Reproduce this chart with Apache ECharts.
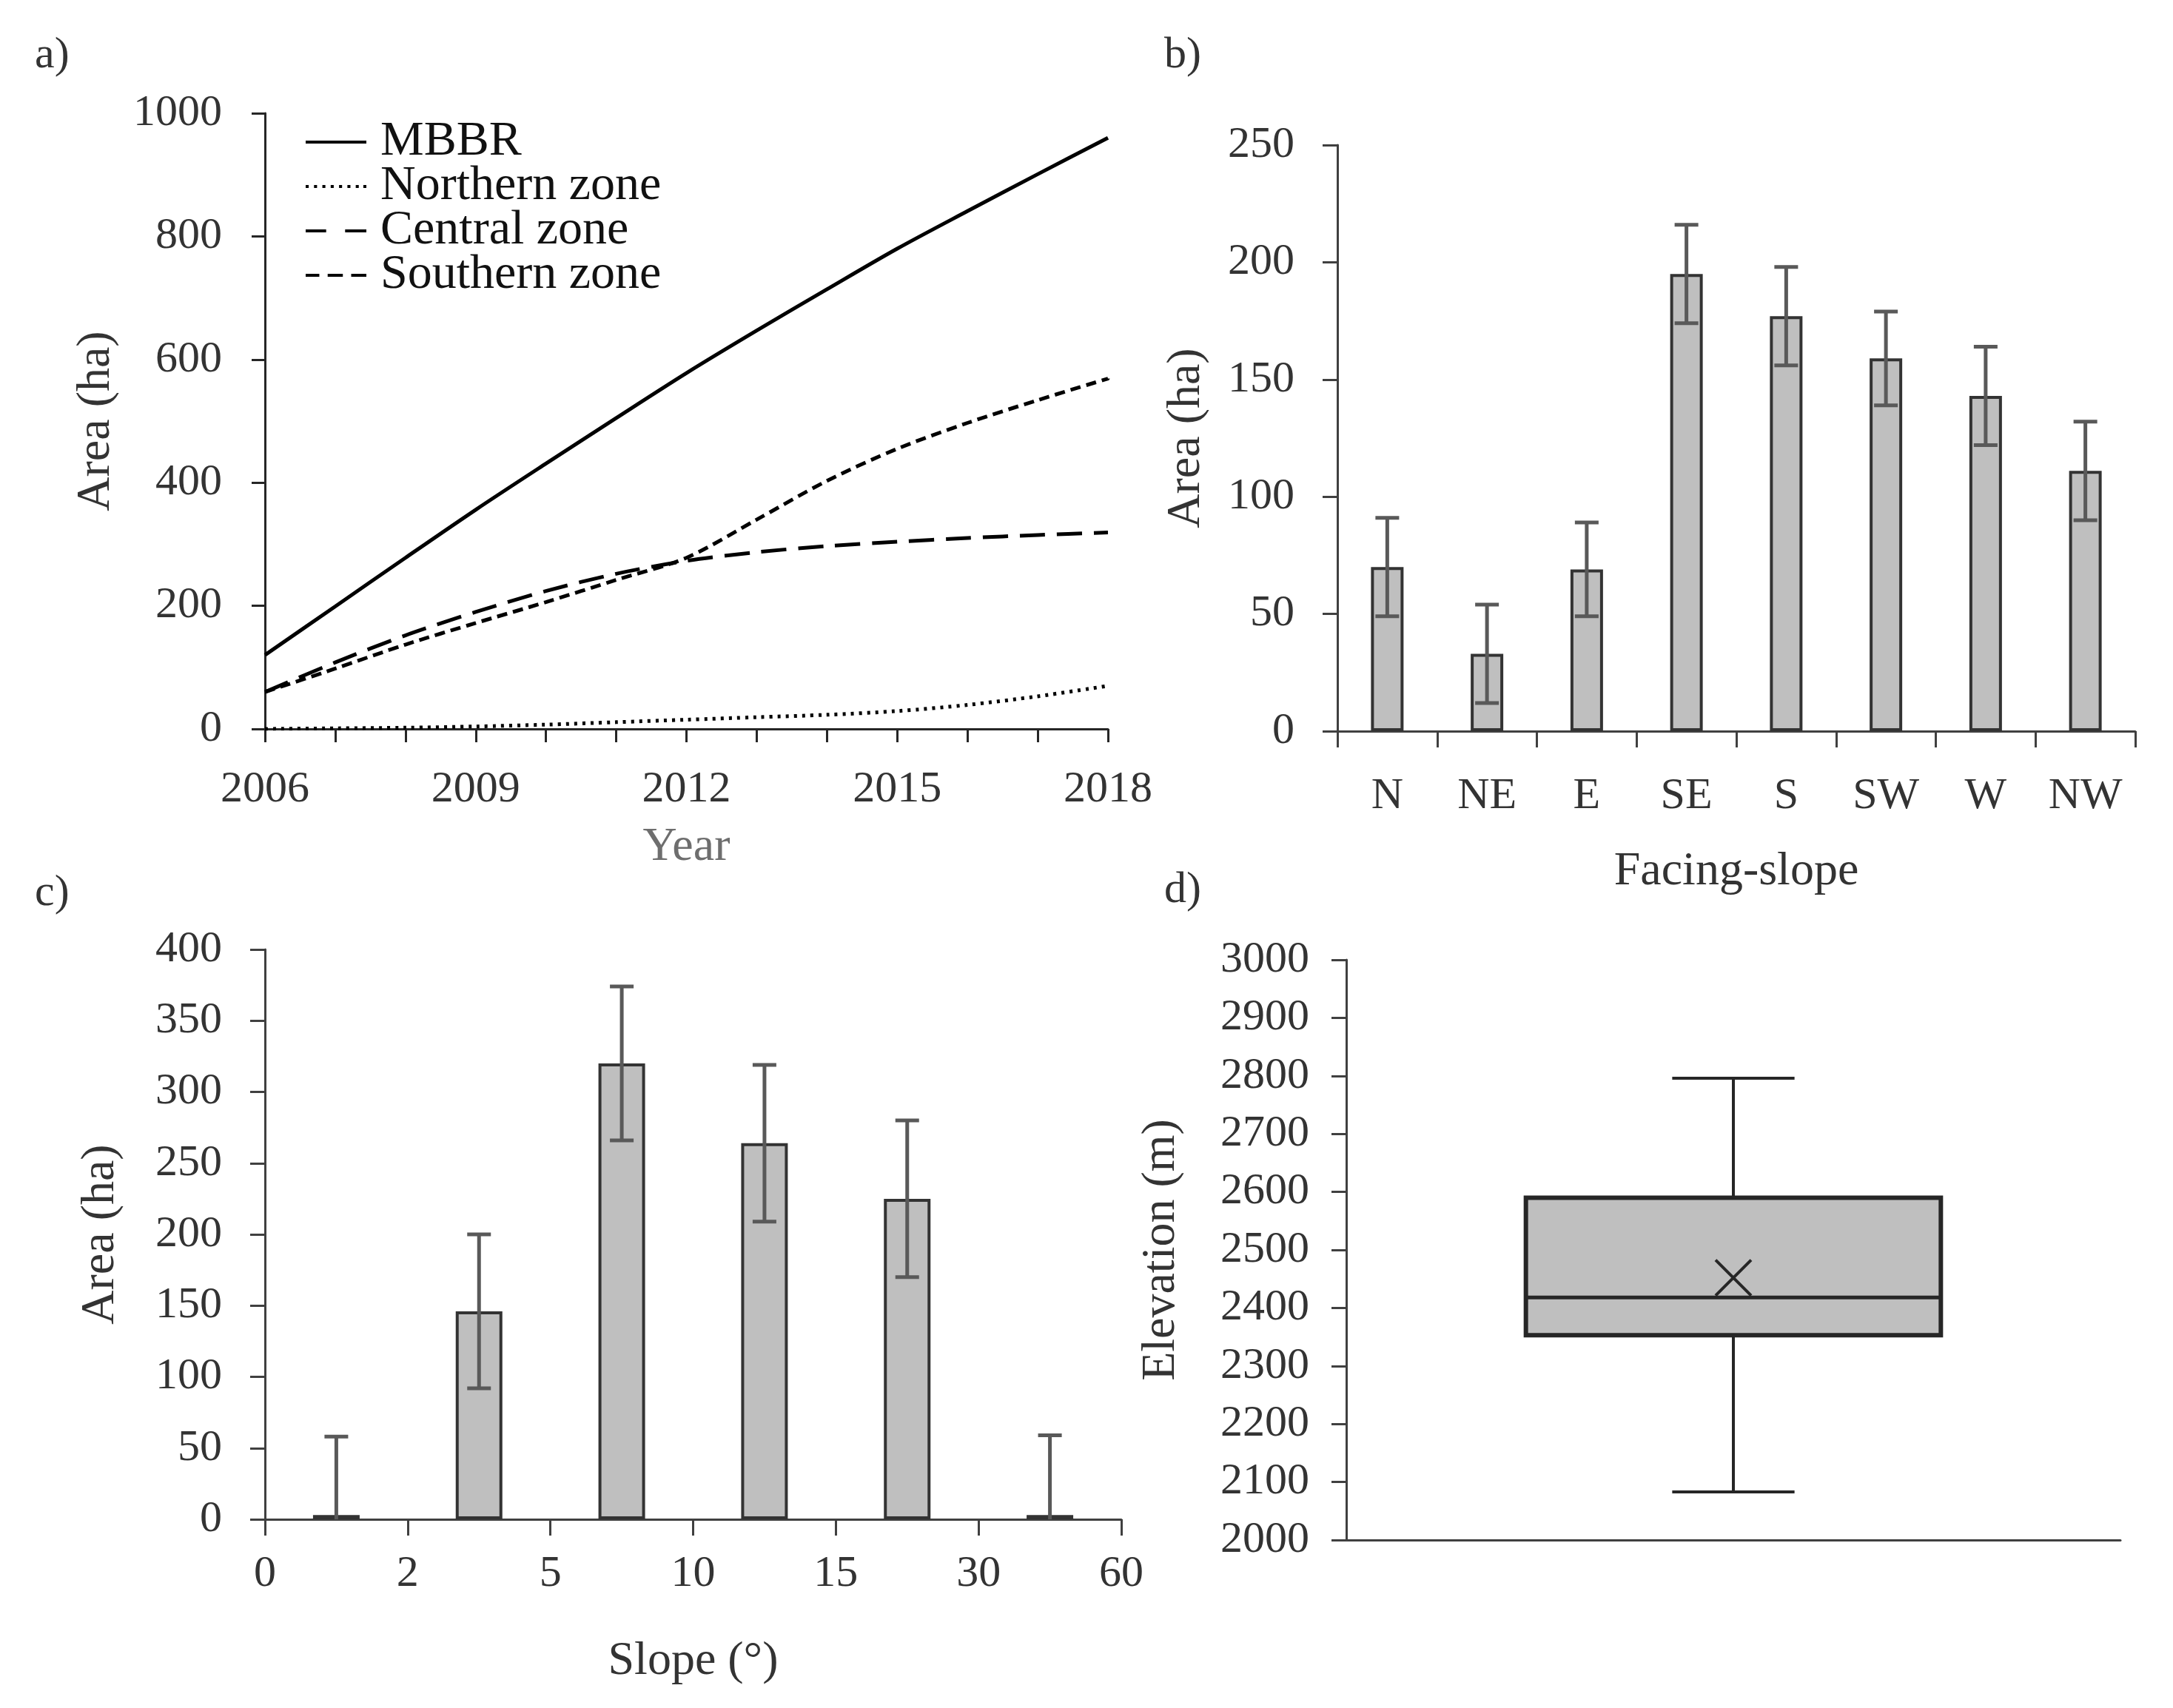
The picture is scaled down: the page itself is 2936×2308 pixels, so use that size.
<!DOCTYPE html>
<html>
<head>
<meta charset="utf-8">
<title>MBBR area panels</title>
<script src="https://cdn.jsdelivr.net/npm/echarts@6/dist/echarts.min.js"></script>
<style>
  html, body { margin: 0; padding: 0; background: #fff; }
  #chart { width: 2936px; height: 2308px; }
</style>
</head>
<body>
<div id="chart"></div>
<script>
// a) area by zone through time
const years = [2006, 2007, 2008, 2009, 2010, 2011, 2012, 2013, 2014, 2015, 2016, 2017, 2018]
const mbbr = [120, 199, 278, 356, 431, 505, 578, 647, 714, 780, 841, 901, 960]
const northern = [0, 1, 2, 4, 7, 11, 15, 19, 23, 29, 39, 53, 70]
const central = [60, 108, 152, 190, 224, 252, 273, 287, 297, 304, 310, 315, 319]
const southern = [60, 98, 137, 172, 206, 242, 278, 340, 403, 455, 497, 534, 569]

// b) facing-slope
const aspects = ['N', 'NE', 'E', 'SE', 'S', 'SW', 'W', 'NW']
const aspectArea = [70, 33, 69, 195, 177, 159, 143, 111]
const aspectErr = [21, 21, 20, 21, 21, 20, 21, 21]

// c) slope classes, labels sit on the class limits
const slopeTicks = ['0', '2', '5', '10', '15', '30', '60']
const slopeArea = [3, 146, 320, 264, 225, 3]
const slopeErr = [55, 54, 54, 55, 55, 56]

// d) elevation box plot: min, q1, median, q3, max, mean
const elevStats = [2083, 2353, 2418, 2590, 2796, 2452]

const FONT = 'Liberation Serif'
const INK = '#262626'
const TXT = '#333333'

// 图例线型（虚线用路径画）
const legendIcons = {
  MBBR: 'path://M0,0h80v4h-80z',
  'Northern zone': 'path://M0,0h4v4h-4zM11,0h4v4h-4zM22,0h4v4h-4zM33,0h4v4h-4zM44,0h4v4h-4zM55,0h4v4h-4zM66,0h4v4h-4zM76,0h4v4h-4z',
  'Central zone': 'path://M0,0h27v4h-27zM52,0h28v4h-28z',
  'Southern zone': 'path://M0,0h18v4h-18zM29,0h20v4h-20zM60,0h20v4h-20z',
}

let chart = echarts.init(document.getElementById('chart'), null, { renderer: 'canvas' })

// 坐标轴通用样式
function axisBase(extra) {
  return Object.assign({
    axisLine: { show: true, lineStyle: { color: INK, width: 3 } },
    axisTick: { show: true, length: 18, lineStyle: { color: INK, width: 3 } },
    axisLabel: { color: TXT, fontFamily: FONT, fontSize: 60, margin: 58, formatter: (v) => String(v) },
    splitLine: { show: false },
    nameTextStyle: { color: TXT, fontFamily: FONT, fontSize: 64 },
    nameLocation: 'middle',
  }, extra)
}

// 误差线
function errorBar(params, api) {
  let x = api.value(0),
    v = api.value(1),
    e = api.value(2),
    top = api.coord([x, v + e]),
    low = api.coord([x, Math.max(v - e, 0)]),
    half = 16,
    style = { stroke: '#595959', lineWidth: 5 },
    children = [
      { type: 'line', shape: { x1: top[0], y1: top[1], x2: low[0], y2: low[1] }, style },
      { type: 'line', shape: { x1: top[0] - half, y1: top[1], x2: top[0] + half, y2: top[1] }, style },
    ]
  if (v - e >= 0) {
    children.push({ type: 'line', shape: { x1: low[0] - half, y1: low[1], x2: low[0] + half, y2: low[1] }, style })
  }
  return { type: 'group', children }
}

// 箱线图
function boxItem(params, api) {
  let [lo, q1, med, q3, hi, mean] = [1, 2, 3, 4, 5, 6].map((i) => api.value(i)),
    band = api.size([1, 0])[0],
    cx = api.coord([0, med])[0],
    boxHalf = band * 0.268,
    capHalf = band * 0.079,
    y = (v) => api.coord([0, v])[1],
    line = { stroke: INK, lineWidth: 4 },
    m = 24
  return {
    type: 'group',
    children: [
      { type: 'line', shape: { x1: cx, y1: y(hi), x2: cx, y2: y(q3) }, style: line },
      { type: 'line', shape: { x1: cx, y1: y(q1), x2: cx, y2: y(lo) }, style: line },
      { type: 'line', shape: { x1: cx - capHalf, y1: y(hi), x2: cx + capHalf, y2: y(hi) }, style: line },
      { type: 'line', shape: { x1: cx - capHalf, y1: y(lo), x2: cx + capHalf, y2: y(lo) }, style: line },
      {
        type: 'rect',
        shape: { x: cx - boxHalf, y: y(q3), width: boxHalf * 2, height: y(q1) - y(q3) },
        style: { fill: '#bfbfbf', stroke: INK, lineWidth: 6 },
      },
      { type: 'line', shape: { x1: cx - boxHalf, y1: y(med), x2: cx + boxHalf, y2: y(med) }, style: { stroke: INK, lineWidth: 5 } },
      { type: 'line', shape: { x1: cx - m, y1: y(mean) - m, x2: cx + m, y2: y(mean) + m }, style: line },
      { type: 'line', shape: { x1: cx - m, y1: y(mean) + m, x2: cx + m, y2: y(mean) - m }, style: line },
    ],
  }
}

const panelLabel = (text, left, top) => ({
  text,
  left,
  top,
  textStyle: { fontFamily: FONT, fontSize: 60, fontWeight: 'normal', color: TXT },
})

const lineSeries = (name, data, dash, width) => ({
  name,
  type: 'line',
  xAxisIndex: 0,
  yAxisIndex: 0,
  data: years.map((y, i) => [y, data[i]]),
  smooth: 0.3,
  symbol: 'none',
  lineStyle: { color: '#000', width, type: dash, cap: 'butt' },
  itemStyle: { color: '#000' },
})

let option = {
  backgroundColor: '#fff',
  animation: false,
  title: [
    panelLabel('a)', 42, 40),
    panelLabel('b)', 1568, 40),
    panelLabel('c)', 42, 1172),
    panelLabel('d)', 1568, 1168),
  ],
  legend: {
    left: 408,
    top: 154,
    orient: 'vertical',
    itemWidth: 82,
    itemHeight: 5,
    itemGap: -6,
    itemStyle: { borderWidth: 0 },
    textStyle: { fontFamily: FONT, fontSize: 66, color: '#111', padding: [0, 0, 0, 14], lineHeight: 56 },
    data: Object.keys(legendIcons).map((name) => ({ name, icon: legendIcons[name] })),
  },
  grid: [
    { left: 358, top: 153, width: 1139, height: 832 },
    { left: 1807, top: 196, width: 1078, height: 792 },
    { left: 358, top: 1283, width: 1157, height: 770 },
    { left: 1819, top: 1297, width: 1046, height: 784 },
  ],
  xAxis: [
    axisBase({
      gridIndex: 0,
      type: 'value',
      min: 2006,
      max: 2018,
      interval: 1,
      name: 'Year',
      nameGap: 128,
      nameTextStyle: { color: '#6e6e6e', fontFamily: FONT, fontSize: 64 },
      axisLabel: {
        color: TXT,
        fontFamily: FONT,
        fontSize: 60,
        margin: 52,
        formatter: (v) => ((v - years[0]) % 3 === 0 ? String(v) : ''),
      },
    }),
    axisBase({
      gridIndex: 1,
      type: 'category',
      data: aspects,
      name: 'Facing-slope',
      nameGap: 158,
      axisTick: { show: true, length: 22, interval: 0, lineStyle: { color: '#404040', width: 3 } },
      axisLine: { lineStyle: { color: '#404040', width: 3 } },
      axisLabel: { color: TXT, fontFamily: FONT, fontSize: 60, margin: 58 },
    }),
    axisBase({
      gridIndex: 2,
      type: 'value',
      min: 0,
      max: slopeTicks.length - 1,
      interval: 1,
      name: 'Slope (°)',
      nameGap: 160,
      axisTick: { show: true, length: 22, lineStyle: { color: '#404040', width: 3 } },
      axisLine: { lineStyle: { color: '#404040', width: 3 } },
      axisLabel: { color: TXT, fontFamily: FONT, fontSize: 60, margin: 44, formatter: (v) => slopeTicks[v] },
    }),
    axisBase({
      gridIndex: 3,
      type: 'category',
      data: [''],
      axisTick: { show: false },
      axisLabel: { show: false },
      axisLine: { lineStyle: { color: '#404040', width: 3 } },
    }),
  ],
  yAxis: [
    axisBase({ gridIndex: 0, type: 'value', min: 0, max: 1000, interval: 200, name: 'Area (ha)', nameGap: 196 }),
    axisBase({
      gridIndex: 1, type: 'value', min: 0, max: 250, interval: 50, name: 'Area (ha)', nameGap: 172,
      axisLine: { show: true, lineStyle: { color: '#404040', width: 3 } },
      axisTick: { show: true, length: 20, lineStyle: { color: '#404040', width: 3 } },
    }),
    axisBase({
      gridIndex: 2, type: 'value', min: 0, max: 400, interval: 50, name: 'Area (ha)', nameGap: 190,
      axisLine: { show: true, lineStyle: { color: '#404040', width: 3 } },
      axisTick: { show: true, length: 20, lineStyle: { color: '#404040', width: 3 } },
    }),
    axisBase({
      gridIndex: 3, type: 'value', min: 2000, max: 3000, interval: 100, name: 'Elevation (m)', nameGap: 218,
      axisLine: { show: true, lineStyle: { color: '#404040', width: 3 } },
      axisTick: { show: true, length: 20, lineStyle: { color: '#404040', width: 3 } },
      axisLabel: { color: TXT, fontFamily: FONT, fontSize: 60, margin: 50, formatter: (v) => String(v) },
    }),
  ],
  series: [
    lineSeries('MBBR', mbbr, 'solid', 5),
    lineSeries('Northern zone', northern, [4, 7], 5),
    lineSeries('Central zone', central, [34, 16], 5),
    lineSeries('Southern zone', southern, [14, 8], 5),
    {
      type: 'bar',
      xAxisIndex: 1,
      yAxisIndex: 1,
      data: aspectArea,
      barWidth: 44,
      itemStyle: { color: '#bfbfbf', borderColor: '#333', borderWidth: 4 },
    },
    {
      type: 'custom',
      xAxisIndex: 1,
      yAxisIndex: 1,
      data: aspectArea.map((v, i) => [i, v, aspectErr[i]]),
      encode: { x: 0, y: 1 },
      renderItem: errorBar,
      z: 5,
    },
    {
      type: 'bar',
      xAxisIndex: 2,
      yAxisIndex: 2,
      data: slopeArea.map((v, i) => [i + 0.5, v]),
      barWidth: 63,
      itemStyle: { color: '#bfbfbf', borderColor: '#333', borderWidth: 4 },
    },
    {
      type: 'custom',
      xAxisIndex: 2,
      yAxisIndex: 2,
      data: slopeArea.map((v, i) => [i + 0.5, v, slopeErr[i]]),
      encode: { x: 0, y: 1 },
      renderItem: errorBar,
      z: 5,
    },
    {
      type: 'custom',
      xAxisIndex: 3,
      yAxisIndex: 3,
      data: [[0, ...elevStats]],
      encode: { x: 0, y: [1, 5] },
      renderItem: boxItem,
    },
  ],
}

chart.setOption(option)
</script>
</body>
</html>
